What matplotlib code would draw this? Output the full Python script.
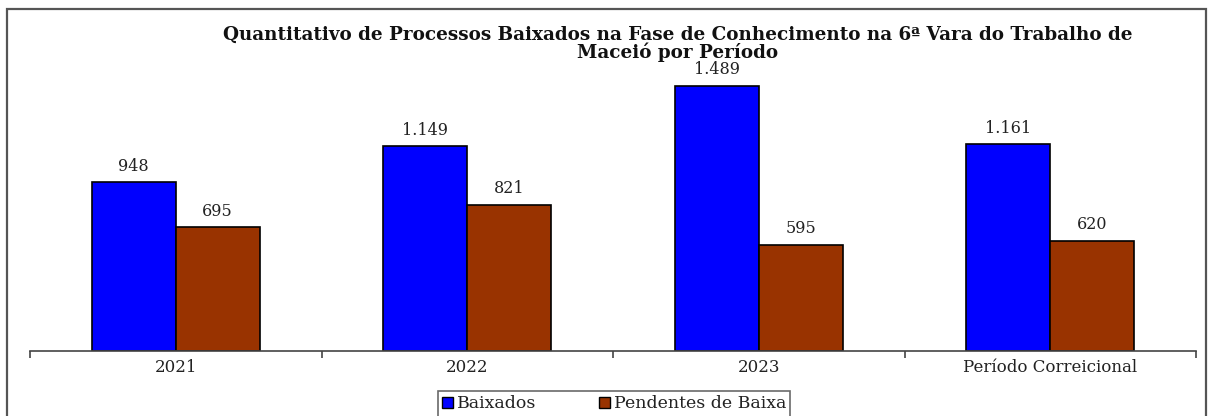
import matplotlib
matplotlib.use("Agg")
import matplotlib.pyplot as plt
from matplotlib.patches import Rectangle, Patch
import numpy as np

categories = ["2021", "2022", "2023", "Período Correicional"]
baixados = [948, 1149, 1489, 1161]
pendentes = [695, 821, 595, 620]
labels_baixados = ["948", "1.149", "1.489", "1.161"]
labels_pendentes = ["695", "821", "595", "620"]
series_names = ["Baixados", "Pendentes de Baixa"]
title = "Quantitativo de Processos Baixados na Fase de Conhecimento na 6ª Vara do Trabalho de\nMaceió por Período"

plt.rcParams['font.family'] = ['DejaVu Serif', 'Liberation Serif']

W, H = 1208, 416
fig = plt.figure(figsize=(W / 100, H / 100), dpi=100)

# outer frame
fig.patches.append(Rectangle((7 / W, -0.05), (1206 - 7) / W, 1.05 - 9 / H,
                             transform=fig.transFigure, fill=False,
                             edgecolor="#555555", linewidth=1.6))

ax_left, ax_right = 30 / W, 1196 / W
ax_bottom = 1 - 351 / H
ax_top = 1 - 60 / H
ax = fig.add_axes([ax_left, ax_bottom, ax_right - ax_left, ax_top - ax_bottom])

x = np.arange(len(categories))
bw = 0.288
c_blue = "#0000FF"
c_brown = "#993300"
ax.bar(x - bw / 2, baixados, width=bw, color=c_blue, edgecolor="black", linewidth=1.2)
ax.bar(x + bw / 2, pendentes, width=bw, color=c_brown, edgecolor="black", linewidth=1.2)

for xi, v, lab in zip(x, baixados, labels_baixados):
    ax.annotate(lab, (xi - bw / 2, v), xytext=(0, 5.5), textcoords="offset points",
                ha="center", va="bottom", fontsize=11.5, color="#222222")
for xi, v, lab in zip(x, pendentes, labels_pendentes):
    ax.annotate(lab, (xi + bw / 2, v), xytext=(0, 5.5), textcoords="offset points",
                ha="center", va="bottom", fontsize=11.5, color="#222222")

ax.set_xlim(-0.5, len(categories) - 0.5)
ax.set_ylim(0, 291 / 0.178)
ax.set_yticks([])
for s in ["top", "right", "left"]:
    ax.spines[s].set_visible(False)
ax.spines["bottom"].set_color("#444444")
ax.spines["bottom"].set_linewidth(1.2)

ax.set_xticks(np.arange(-0.5, len(categories)), minor=False)
ax.set_xticklabels([])
ax.tick_params(axis="x", which="major", length=5, width=1.2, color="#444444", direction="out")
ax.set_xticks(x, minor=True)
ax.set_xticklabels(categories, minor=True, fontsize=12, color="#222222")
ax.tick_params(axis="x", which="minor", length=0, pad=6)

fig.text(0.5 * (222 + 1133) / W, 1 - 43.5 / H, title, ha="center", va="center",
         fontsize=13.2, fontweight="bold", linespacing=0.92, color="#111111")

handles = [Patch(facecolor=c_blue, edgecolor="black"), Patch(facecolor=c_brown, edgecolor="black")]
leg = fig.legend(handles, series_names, loc="center", bbox_to_anchor=(614 / W, 1 - 404 / H),
                 ncol=2, fontsize=12.5, frameon=True, fancybox=False, edgecolor="#444444",
                 handlelength=0.65, handleheight=0.65, handletextpad=0.2, columnspacing=3.6,
                 borderpad=0.25, borderaxespad=0)
leg.get_frame().set_linewidth(1.2)
for t in leg.get_texts():
    t.set_color("#222222")

fig.savefig("out.png", dpi=100)
